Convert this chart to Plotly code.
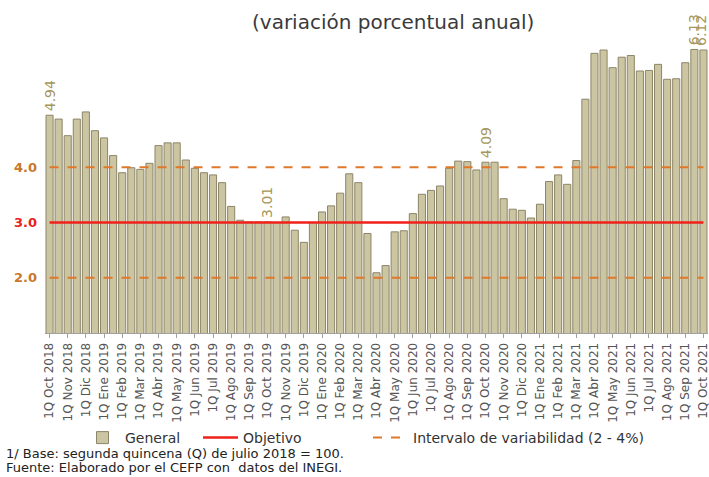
import plotly.graph_objects as go

months = ["Oct", "Nov", "Dic", "Ene", "Feb", "Mar", "Abr", "May", "Jun", "Jul", "Ago", "Sep"]

# Quincena categories: 1Q Oct 2018 ... 1Q Oct 2021
categories = []
for y0 in range(3):
    for i, m in enumerate(months):
        yr = (2018 if i < 3 else 2019) + y0
        categories.append(f"1Q {m} {yr}")
        categories.append(f"2Q {m} {yr}")
categories.append("1Q Oct 2021")
tick_labels = [c for c in categories if c.startswith("1Q")]

general = [4.94, 4.87, 4.57, 4.87, 5.00, 4.66, 4.53, 4.21, 3.90, 3.99,
           3.96, 4.07, 4.39, 4.44, 4.44, 4.13, 3.98, 3.90, 3.86, 3.72,
           3.29, 3.04, 3.01, 3.01, 3.01, 3.00, 3.10, 2.86, 2.64, 3.00,
           3.19, 3.30, 3.53, 3.88, 3.72, 2.80, 2.09, 2.22, 2.83, 2.85,
           3.16, 3.51, 3.58, 3.66, 3.98, 4.11, 4.10, 3.95, 4.09, 4.09,
           3.43, 3.24, 3.22, 3.08, 3.33, 3.74, 3.86, 3.69, 4.12, 5.23,
           6.06, 6.12, 5.80, 5.99, 6.02, 5.74, 5.75, 5.86, 5.59, 5.60,
           5.89, 6.13, 6.12]

objetivo = 3.0
intervalo_sup = 4.0
intervalo_inf = 2.0
label_idx = [0, 24, 48, 71, 72]

y_ticks = [2.0, 3.0, 4.0]
y_tick_colors = ["#C8782A", "#E8231E", "#C8782A"]

FONT = "DejaVu Sans"
PW = 663.0   # plot width px
PH = 304.0   # plot height px
PB = 333.0   # plot bottom px


def px_x(x):
    return (x - 45) / PW


def px_y(y):
    return (PB - y) / PH


fig = go.Figure()
fig.add_trace(go.Bar(
    x=categories, y=general, name="General",
    marker=dict(color="#CCC5A2", line=dict(color="#8C8568", width=1)),
    width=0.78, legend="legend",
))
fig.add_trace(go.Scatter(
    x=[categories[0], categories[-1]], y=[objetivo, objetivo],
    mode="lines", name="Objetivo",
    line=dict(color="#F0201A", width=2.5), legend="legend2",
))
fig.add_trace(go.Scatter(
    x=[categories[0], categories[-1]], y=[intervalo_sup, intervalo_sup],
    mode="lines", name="Intervalo de variabilidad (2 - 4%)",
    line=dict(color="#E0782A", width=2, dash="dash"), legend="legend3",
))
fig.add_trace(go.Scatter(
    x=[categories[0], categories[-1]], y=[intervalo_inf, intervalo_inf],
    mode="lines", showlegend=False,
    line=dict(color="#E0782A", width=2, dash="dash"),
))

annotations = []
for i in label_idx:
    annotations.append(dict(
        x=categories[i], y=general[i], xref="x", yref="y",
        text=f"{general[i]:.2f}", textangle=-90, showarrow=False,
        xanchor="center", yanchor="bottom", yshift=2,
        xshift=-3 if i == len(general) - 1 else 0,
        font=dict(family=FONT, size=14, color="#A6965A"),
    ))
for v, c in zip(y_ticks, y_tick_colors):
    annotations.append(dict(
        x=0, xref="paper", y=v, yref="y", text=f"<b>{v:.1f}</b>",
        showarrow=False, xanchor="right", xshift=-6,
        font=dict(family=FONT, size=13, color=c),
    ))
annotations.append(dict(
    x=px_x(393), xref="paper", y=px_y(22), yref="paper", yanchor="middle",
    text="(variación porcentual anual)", showarrow=False,
    font=dict(family=FONT, size=20, color="#3A3A3A"),
))
annotations.append(dict(
    x=px_x(4), xref="paper", xanchor="left", y=px_y(453), yref="paper", yanchor="middle",
    text="1/ Base: segunda quincena (Q) de julio 2018 = 100.", showarrow=False,
    font=dict(family=FONT, size=13, color="#222222"),
))
annotations.append(dict(
    x=px_x(4), xref="paper", xanchor="left", y=px_y(467), yref="paper", yanchor="middle",
    text="Fuente: Elaborado por el CEFP con  datos del INEGI.", showarrow=False,
    font=dict(family=FONT, size=13, color="#222222"),
))

leg_common = dict(orientation="h", yanchor="middle", y=px_y(438), xanchor="left",
                  font=dict(family=FONT, size=14, color="#333333"), itemwidth=35,
                  bgcolor="rgba(0,0,0,0)")

fig.update_layout(
    width=709, height=477,
    margin=dict(l=45, r=1, t=29, b=144, autoexpand=False),
    paper_bgcolor="white", plot_bgcolor="white",
    showlegend=True,
    legend=dict(x=px_x(80), **leg_common),
    legend2=dict(x=px_x(198), **leg_common),
    legend3=dict(x=px_x(368), **leg_common),
    xaxis=dict(
        type="category", tickmode="array", tickvals=tick_labels, ticktext=tick_labels,
        tickangle=-90, tickfont=dict(family=FONT, size=12, color="#555555"),
        showline=True, linecolor="#A0A0A0", ticks="outside", ticklen=4, tickcolor="#A0A0A0",
        showgrid=False, range=[-0.5, len(categories) - 0.5], automargin=False,
    ),
    yaxis=dict(range=[1.0, 6.5], showgrid=False, showticklabels=False, zeroline=False,
               showline=False),
    annotations=annotations,
)

fig.write_html("out.html", config={"displayModeBar": False},
               post_script="document.body.style.margin='0px';")
